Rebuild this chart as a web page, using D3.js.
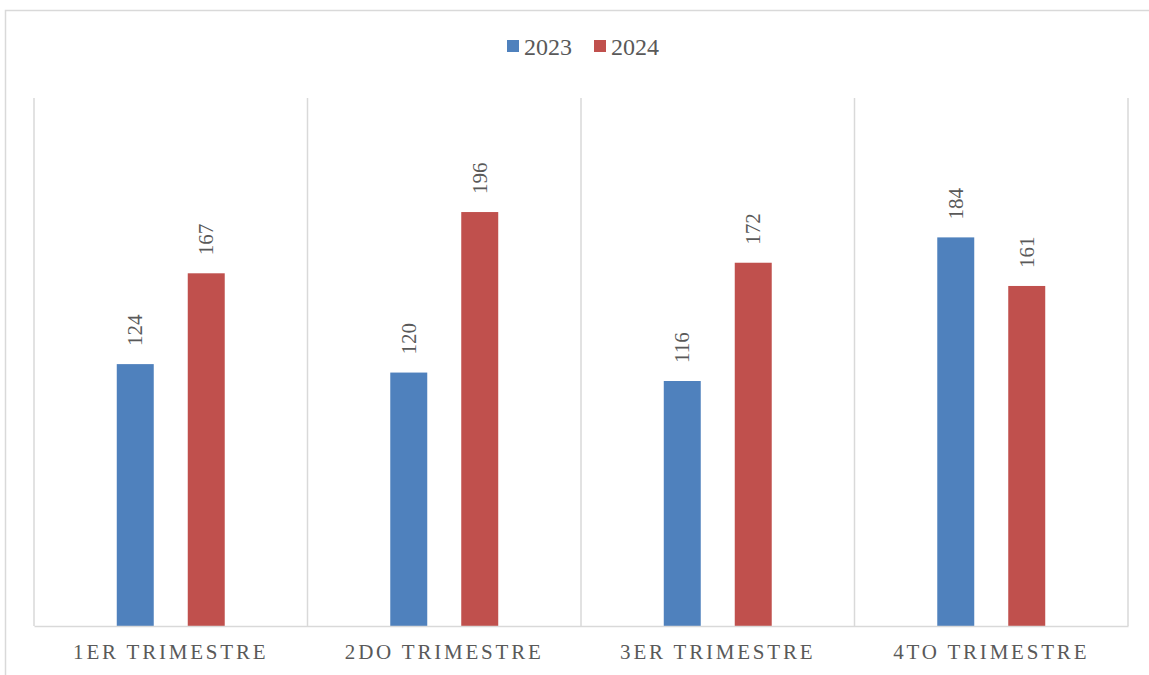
<!DOCTYPE html>
<html>
<head>
<meta charset="utf-8">
<script src="https://cdn.jsdelivr.net/npm/d3@7"></script>
<style>
  html, body { margin: 0; padding: 0; background: #fff; }
  svg { display: block; }
</style>
</head>
<body>
<svg id="chart" width="1149" height="675"></svg>
<script>
const categories = ["1ER TRIMESTRE", "2DO TRIMESTRE", "3ER TRIMESTRE", "4TO TRIMESTRE"];
const seriesNames = ["2023", "2024"];
const values2023 = [124, 120, 116, 184];
const values2024 = [167, 196, 172, 161];
const colors = ["#4F81BD", "#C0504D"];

const W = 1149, H = 675;
const plot = { left: 34, right: 1128, top: 98, bottom: 626 };
const font = "'Liberation Serif', 'DejaVu Serif', serif";
const textColor = "#595959";
const gridColor = "#D9D9D9";

const svg = d3.select("#chart");

// outer chart frame
svg.append("rect")
  .attr("x", 5.5).attr("y", 10.5)
  .attr("width", W + 10).attr("height", H + 10)
  .attr("fill", "#fff").attr("stroke", gridColor).attr("stroke-width", 1.5);

const x = d3.scaleBand().domain(categories).range([plot.left, plot.right]);
const inner = d3.scaleBand().domain(seriesNames).range([0, x.bandwidth()])
  .paddingInner(0.479).paddingOuter(1.166);
const y = d3.scaleLinear().domain([0, 250]).range([plot.bottom, plot.top]);

// category separators
const seps = categories.map(c => x(c)).concat([plot.right]);
svg.append("g").selectAll("line").data(seps).join("line")
  .attr("x1", d => d).attr("x2", d => d)
  .attr("y1", plot.top).attr("y2", plot.bottom)
  .attr("stroke", gridColor).attr("stroke-width", 1.5);

const rows = categories.map((c, i) => ({ cat: c, vals: [values2023[i], values2024[i]] }));

const groups = svg.append("g").selectAll("g").data(rows).join("g")
  .attr("transform", d => `translate(${x(d.cat)},0)`);

groups.selectAll("rect").data(d => d.vals.map((v, j) => ({ v, s: seriesNames[j], j })))
  .join("rect")
  .attr("x", d => inner(d.s))
  .attr("width", inner.bandwidth())
  .attr("y", d => y(d.v))
  .attr("height", d => y(0) - y(d.v))
  .attr("fill", d => colors[d.j]);

groups.selectAll("text").data(d => d.vals.map((v, j) => ({ v, s: seriesNames[j], j })))
  .join("text")
  .attr("transform", d => `translate(${inner(d.s) + inner.bandwidth() / 2 + 7},${y(d.v) - 18}) rotate(-90)`)
  .attr("font-family", font).attr("font-size", 21).attr("fill", textColor)
  .attr("text-anchor", "start")
  .text(d => d.v);

// x axis
const xAxis = d3.axisBottom(x).tickSize(0).tickPadding(18);
const ax = svg.append("g").attr("transform", `translate(0,${plot.bottom})`).call(xAxis);
ax.select(".domain").attr("stroke", gridColor).attr("stroke-width", 1.5);
ax.selectAll("text")
  .attr("font-family", font).attr("font-size", 21).attr("fill", textColor)
  .attr("letter-spacing", "2.8px").attr("dy", "0.71em");

// legend
const legend = svg.append("g");
const lx = [507, 594];
seriesNames.forEach((s, i) => {
  legend.append("rect").attr("x", lx[i]).attr("y", 40).attr("width", 12).attr("height", 12).attr("fill", colors[i]);
  legend.append("text").attr("x", lx[i] + 17).attr("y", 55)
    .attr("font-family", font).attr("font-size", 24).attr("fill", textColor).text(s);
});
</script>
</body>
</html>
